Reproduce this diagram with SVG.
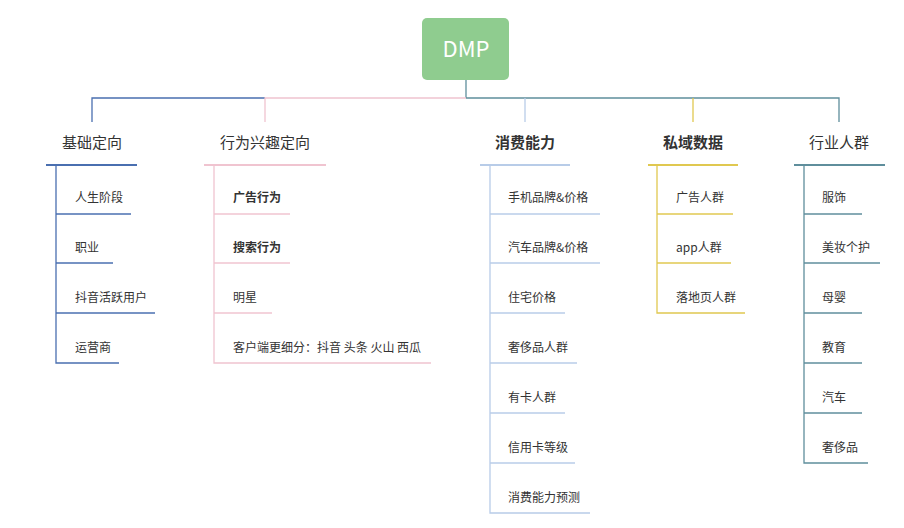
<svg xmlns="http://www.w3.org/2000/svg" width="904" height="528" viewBox="0 0 904 528">
<style>
text{font-family:"Noto Sans CJK SC","Noto Sans",sans-serif;fill:#333}
.h{font-size:15px;text-anchor:middle}
.b{font-weight:bold}
.c{font-size:12px}
line,polyline{fill:none;stroke-width:1.3}
.u{stroke-width:2}
.k1{stroke:#4a6fb0}.k2{stroke:#f0c4d0}.k3{stroke:#b8cce8}.k4{stroke:#e0c850}.k5{stroke:#5f8e9c}
</style>
<rect width="904" height="528" fill="#fff"/>
<g id="connectors">
<line x1="466" y1="80" x2="466" y2="98" class="k5"/>
<polyline points="92,122 92,98 265,98" class="k1"/>
<polyline points="265,122 265,98 466,98" class="k2"/>
<polyline points="466,98 839,98 839,122" class="k5"/>
<line x1="525" y1="98" x2="525" y2="122" class="k3"/>
<line x1="693" y1="98" x2="693" y2="122" class="k4"/>
</g>
<g id="root"><rect x="422" y="18" width="87" height="62" rx="5" fill="#8fcc8f"/><text x="466" y="57" font-size="22" text-anchor="middle" style="fill:#fff">DMP</text></g>
<g id="n1">
<text x="92" y="148" class="h">基础定向</text><line x1="46" y1="165" x2="137" y2="165" class="k1 u"/>
<polyline points="56,165 56,363 119,363" class="k1"/>
<text x="75" y="202" class="c">人生阶段</text><line x1="56" y1="214" x2="131" y2="214" class="k1"/>
<text x="75" y="252" class="c">职业</text><line x1="56" y1="263" x2="113" y2="263" class="k1"/>
<text x="75" y="302" class="c">抖音活跃用户</text><line x1="56" y1="313" x2="155" y2="313" class="k1"/>
<text x="75" y="352" class="c">运营商</text>
</g>
<g id="n2">
<text x="265" y="148" class="h">行为兴趣定向</text><line x1="204" y1="165" x2="326" y2="165" class="k2 u"/>
<polyline points="214,165 214,363 431,363" class="k2"/>
<text x="233" y="202" class="c b">广告行为</text><line x1="214" y1="214" x2="290" y2="214" class="k2"/>
<text x="233" y="252" class="c b">搜索行为</text><line x1="214" y1="263" x2="290" y2="263" class="k2"/>
<text x="233" y="302" class="c">明星</text><line x1="214" y1="313" x2="272" y2="313" class="k2"/>
<text x="233" y="352" class="c">客户端更细分：抖音 头条 火山 西瓜</text>
</g>
<g id="n3">
<text x="525" y="148" class="h b">消费能力</text><line x1="480" y1="165" x2="570" y2="165" class="k3 u"/>
<polyline points="490,165 490,513 590,513" class="k3"/>
<text x="508" y="202" class="c">手机品牌&amp;价格</text><line x1="490" y1="214" x2="600" y2="214" class="k3"/>
<text x="508" y="252" class="c">汽车品牌&amp;价格</text><line x1="490" y1="263" x2="600" y2="263" class="k3"/>
<text x="508" y="302" class="c">住宅价格</text><line x1="490" y1="313" x2="565" y2="313" class="k3"/>
<text x="508" y="352" class="c">奢侈品人群</text><line x1="490" y1="363" x2="577" y2="363" class="k3"/>
<text x="508" y="402" class="c">有卡人群</text><line x1="490" y1="413" x2="565" y2="413" class="k3"/>
<text x="508" y="452" class="c">信用卡等级</text><line x1="490" y1="463" x2="575" y2="463" class="k3"/>
<text x="508" y="502" class="c">消费能力预测</text>
</g>
<g id="n4">
<text x="693" y="148" class="h b">私域数据</text><line x1="648" y1="165" x2="738" y2="165" class="k4 u"/>
<polyline points="657,165 657,313 745,313" class="k4"/>
<text x="676" y="202" class="c">广告人群</text><line x1="657" y1="214" x2="733" y2="214" class="k4"/>
<text x="676" y="252" class="c">app人群</text><line x1="657" y1="263" x2="731" y2="263" class="k4"/>
<text x="676" y="302" class="c">落地页人群</text>
</g>
<g id="n5">
<text x="839" y="148" class="h">行业人群</text><line x1="794" y1="165" x2="885" y2="165" class="k5 u"/>
<polyline points="804,165 804,463 868,463" class="k5"/>
<text x="822" y="202" class="c">服饰</text><line x1="804" y1="214" x2="862" y2="214" class="k5"/>
<text x="822" y="252" class="c">美妆个护</text><line x1="804" y1="263" x2="880" y2="263" class="k5"/>
<text x="822" y="302" class="c">母婴</text><line x1="804" y1="313" x2="862" y2="313" class="k5"/>
<text x="822" y="352" class="c">教育</text><line x1="804" y1="363" x2="862" y2="363" class="k5"/>
<text x="822" y="402" class="c">汽车</text><line x1="804" y1="413" x2="862" y2="413" class="k5"/>
<text x="822" y="452" class="c">奢侈品</text>
</g>
</svg>
